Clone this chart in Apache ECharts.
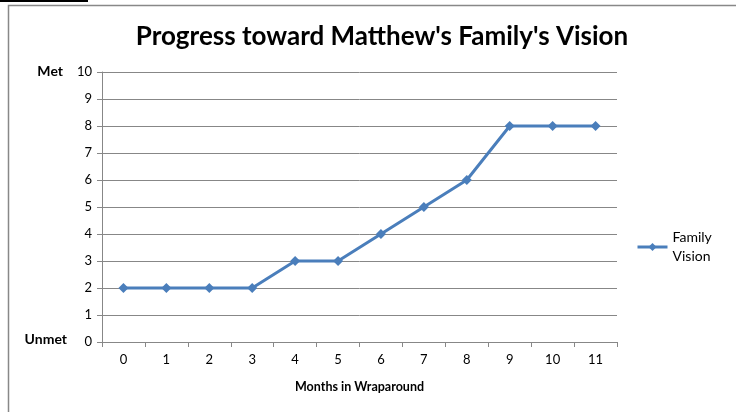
<!DOCTYPE html>
<html>
<head>
<meta charset="utf-8">
<script src="https://cdn.jsdelivr.net/npm/echarts@6/dist/echarts.min.js"></script>
<style>
  html, body { margin: 0; padding: 0; background: #fff; }
  #main { width: 736px; height: 412px; }
</style>
</head>
<body>
<div id="main"></div>
<script>
    // 数据
    let months = ['0', '1', '2', '3', '4', '5', '6', '7', '8', '9', '10', '11'];
    let visionValues = [2, 2, 2, 2, 3, 3, 4, 5, 6, 8, 8, 8];
    let seriesName = 'Family Vision';

    let myChart = echarts.init(document.getElementById('main'));
    let font = 'Lato, "Open Sans", sans-serif';

    let option = {
        backgroundColor: '#fff',
        animation: false,
        title: {
            text: "Progress toward Matthew's Family's Vision",
            left: 377,
            top: 19,
            textAlign: 'center',
            textStyle: { fontFamily: font, fontWeight: 'bold', fontSize: 26, color: '#000' }
        },
        legend: {
            left: 631,
            top: 223,
            orient: 'vertical',
            itemWidth: 30,
            itemHeight: 10,
            formatter: (name) => name.replace(' ', '\n'),
            lineStyle: { width: 3 },
            textStyle: { fontFamily: font, fontSize: 14, color: '#000', lineHeight: 19 },
            data: [seriesName]
        },
        grid: { left: 102, right: 119, top: 72, bottom: 70, containLabel: false },
        xAxis: {
            type: 'category',
            data: months,
            boundaryGap: true,
            name: 'Months in Wraparound',
            nameLocation: 'middle',
            nameGap: 38,
            nameTextStyle: { fontFamily: font, fontWeight: 'bold', fontSize: 12.5, color: '#000' },
            axisLine: { lineStyle: { color: '#878787' } },
            axisTick: { show: true, alignWithLabel: false, length: 5, lineStyle: { color: '#878787' } },
            axisLabel: { fontFamily: font, fontSize: 13, color: '#000', margin: 11 }
        },
        yAxis: {
            type: 'value',
            min: 0,
            max: 10,
            interval: 1,
            axisLine: { show: true, lineStyle: { color: '#878787' } },
            axisTick: { show: true, length: 5, lineStyle: { color: '#878787' } },
            axisLabel: { fontFamily: font, fontSize: 13, color: '#000', margin: 10 },
            splitLine: { lineStyle: { color: '#878787' } }
        },
        series: [
            {
                name: seriesName,
                type: 'line',
                data: visionValues,
                symbol: 'diamond',
                symbolSize: 10,
                color: '#4A7EBB',
                lineStyle: { width: 3, color: '#4A7EBB' },
                itemStyle: { color: '#4A7EBB' }
            }
        ],
        graphic: [
            { type: 'rect', shape: { x: 8.5, y: 5.5, width: 740, height: 420 }, style: { fill: null, stroke: '#888', lineWidth: 1.5 } },
            { type: 'rect', shape: { x: 0, y: 0, width: 88, height: 2 }, style: { fill: '#000' } },
            { type: 'text', right: 673, top: 64, style: { text: 'Met', fontFamily: font, fontWeight: 'bold', fontSize: 14, fill: '#000' } },
            { type: 'text', right: 669, top: 332, style: { text: 'Unmet', fontFamily: font, fontWeight: 'bold', fontSize: 14, fill: '#000' } }
        ]
    };
    myChart.setOption(option);
</script>
</body>
</html>
